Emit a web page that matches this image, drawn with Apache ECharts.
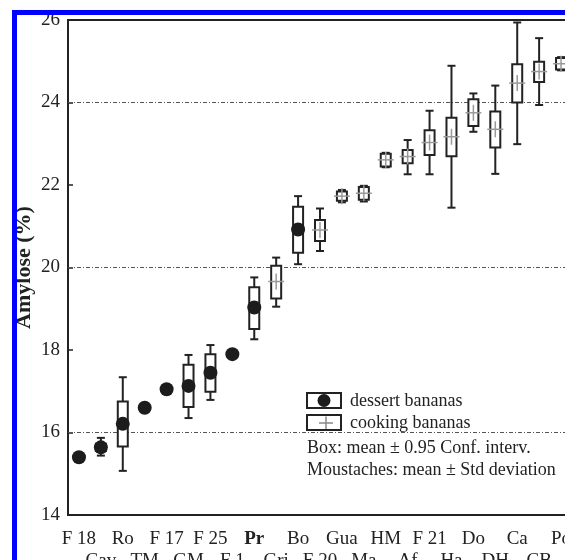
<!DOCTYPE html>
<html>
<head>
<meta charset="utf-8">
<script src="https://cdn.jsdelivr.net/npm/echarts@6/dist/echarts.min.js"></script>
<style>
  html, body { margin: 0; padding: 0; background: #fff; }
  #chart { width: 565px; height: 560px; }
</style>
</head>
<body>
<div id="chart"></div>
<script>
// cultivars, in plot order (labels alternate between two rows)
const categories = ['F 18', 'Cav', 'Ro', 'TM', 'F 17', 'GM', 'F 25', 'F 1', 'Pr', 'Gri', 'Bo', 'F 20',
  'Gua', 'Ma', 'HM', 'Af', 'F 21', 'Ha', 'Do', 'DH', 'Ca', 'CB', 'Po'];
const kinds = ['dessert', 'dessert', 'dessert', 'dessert', 'dessert', 'dessert', 'dessert', 'dessert', 'dessert',
  'cooking', 'dessert', 'cooking', 'cooking', 'cooking', 'cooking', 'cooking', 'cooking', 'cooking',
  'cooking', 'cooking', 'cooking', 'cooking', 'cooking'];
// mean amylose (%)
const means = [15.40, 15.64, 16.21, 16.60, 17.05, 17.13, 17.45, 17.90, 19.03, 19.66, 20.92, 20.91,
  21.73, 21.80, 22.61, 22.69, 23.03, 23.17, 23.75, 23.35, 24.47, 24.75, 24.94];
// box: mean ± 0.95 conf. interval
const boxLow = [null, 15.55, 15.66, null, null, 16.62, 16.99, null, 18.51, 19.25, 20.36, 20.64,
  21.62, 21.64, 22.45, 22.53, 22.73, 22.70, 23.43, 22.91, 24.00, 24.50, 24.80];
const boxHigh = [null, 15.73, 16.75, null, null, 17.64, 17.90, null, 19.52, 20.04, 21.47, 21.15,
  21.84, 21.95, 22.76, 22.85, 23.33, 23.63, 24.08, 23.78, 24.93, 24.99, 25.08];
// moustaches: mean ± std deviation
const whiskerLow = [null, 15.44, 15.07, null, null, 16.35, 16.79, null, 18.26, 19.05, 20.08, 20.40,
  21.58, 21.60, 22.43, 22.26, 22.26, 21.45, 23.29, 22.27, 22.99, 23.94, 24.78];
const whiskerHigh = [null, 15.87, 17.34, null, null, 17.88, 18.12, null, 19.76, 20.24, 21.73, 21.43,
  21.88, 21.98, 22.78, 23.09, 23.80, 24.89, 24.22, 24.41, 25.94, 25.56, 25.10];
const gridValues = [16, 20, 24];

const FONT = '"Liberation Serif", "DejaVu Serif", serif';
const INK = '#222';

const chart = echarts.init(document.getElementById('chart'));

function renderBox(params, api) {
  const i = params.dataIndex;
  const x = api.coord([api.value(0), means[i]])[0];
  const y = v => api.coord([api.value(0), v])[1];
  const children = [];
  if (whiskerLow[i] != null) {
    const hw = 5, cw = 4;
    const line = (x1, y1, x2, y2) => ({
      type: 'line', shape: { x1, y1, x2, y2 }, style: { stroke: INK, lineWidth: 2 }
    });
    children.push(line(x, y(whiskerLow[i]), x, y(whiskerHigh[i])));
    children.push(line(x - cw, y(whiskerLow[i]), x + cw, y(whiskerLow[i])));
    children.push(line(x - cw, y(whiskerHigh[i]), x + cw, y(whiskerHigh[i])));
    children.push({
      type: 'rect',
      shape: { x: x - hw, y: y(boxHigh[i]), width: hw * 2, height: y(boxLow[i]) - y(boxHigh[i]) },
      style: { fill: '#fff', stroke: INK, lineWidth: 2 }
    });
  }
  const ym = y(means[i]);
  if (kinds[i] === 'dessert') {
    children.push({ type: 'circle', shape: { cx: x, cy: ym, r: 7 }, style: { fill: '#1c1c1c' } });
  } else {
    children.push({ type: 'line', shape: { x1: x - 8, y1: ym, x2: x + 8, y2: ym }, style: { stroke: '#999', lineWidth: 1.5 } });
    children.push({ type: 'line', shape: { x1: x, y1: ym - 8, x2: x, y2: ym + 8 }, style: { stroke: '#999', lineWidth: 1.5 } });
  }
  return { type: 'group', children };
}

function renderGridLine(params, api) {
  const cs = params.coordSys;
  const yy = api.coord([0, api.value(0)])[1];
  return {
    type: 'line',
    shape: { x1: cs.x, y1: yy, x2: cs.x + cs.width, y2: yy },
    style: { stroke: '#555', lineWidth: 1, lineDash: [4, 2, 1, 2] }
  };
}

const option = {
  backgroundColor: '#fff',
  animation: false,
  grid: {
    left: 68, top: 20, width: 504, height: 495,
    outerBoundsMode: 'none', containLabel: false,
    show: true, borderColor: INK, borderWidth: 2, backgroundColor: '#fff'
  },
  xAxis: {
    type: 'category',
    data: categories,
    boundaryGap: true,
    axisLine: { lineStyle: { color: INK, width: 2 } },
    axisTick: { inside: true, alignWithLabel: true, length: 4, lineStyle: { color: INK, width: 1.5 } },
    axisLabel: {
      interval: 0,
      hideOverlap: false,
      margin: 13,
      color: INK,
      fontFamily: FONT,
      fontSize: 19,
      lineHeight: 22,
      formatter: (v, idx) => {
        const t = v === 'Pr' ? '{b|Pr}' : v;
        return idx % 2 ? '\n' + t : t;
      },
      rich: { b: { fontWeight: 'bold', fontFamily: FONT, fontSize: 19, color: INK } }
    },
    splitLine: { show: false }
  },
  yAxis: {
    type: 'value',
    min: 14,
    max: 26,
    interval: 2,
    name: 'Amylose (%)',
    nameLocation: 'middle',
    nameGap: 33,
    nameMoveOverlap: false,
    nameTextStyle: { fontFamily: FONT, fontWeight: 'bold', fontSize: 22, color: INK },
    axisLine: { show: true, lineStyle: { color: INK, width: 2 } },
    axisTick: { show: true, inside: true, length: 5, lineStyle: { color: INK, width: 1.5 } },
    axisLabel: { color: INK, fontFamily: FONT, fontSize: 19, margin: 8 },
    splitLine: { show: false }
  },
  series: [
    {
      type: 'custom',
      name: 'grid',
      silent: true,
      z: 1,
      renderItem: renderGridLine,
      data: gridValues.map(v => [v]),
      encode: { y: 0 }
    },
    {
      type: 'custom',
      name: 'bananas',
      z: 5,
      renderItem: renderBox,
      data: categories.map((c, i) => [i, means[i]]),
      encode: { x: 0, y: 1 }
    }
  ],
  graphic: [
    { type: 'rect', z: 100, shape: { x: 12, y: 10, width: 5, height: 550 }, style: { fill: '#0000ff' } },
    { type: 'rect', z: 100, shape: { x: 12, y: 10, width: 553, height: 5 }, style: { fill: '#0000ff' } },
    { type: 'rect', z: 50, shape: { x: 307, y: 393, width: 34, height: 15 }, style: { fill: '#fff', stroke: INK, lineWidth: 2 } },
    { type: 'circle', z: 51, shape: { cx: 324, cy: 400.5, r: 6.5 }, style: { fill: '#1c1c1c' } },
    { type: 'rect', z: 50, shape: { x: 307, y: 415, width: 34, height: 15 }, style: { fill: '#fff', stroke: INK, lineWidth: 2 } },
    { type: 'line', z: 51, shape: { x1: 319, y1: 423, x2: 333, y2: 423 }, style: { stroke: '#888', lineWidth: 1.5 } },
    { type: 'line', z: 51, shape: { x1: 326, y1: 416.5, x2: 326, y2: 429 }, style: { stroke: '#888', lineWidth: 1.5 } },
    { type: 'text', z: 51, x: 350, y: 401, style: { text: 'dessert bananas', fill: INK, font: '18px ' + FONT, textVerticalAlign: 'middle' } },
    { type: 'text', z: 51, x: 350, y: 423, style: { text: 'cooking bananas', fill: INK, font: '18px ' + FONT, textVerticalAlign: 'middle' } },
    { type: 'text', z: 51, x: 307, y: 448, style: { text: 'Box: mean ± 0.95 Conf. interv.', fill: INK, font: '18px ' + FONT, textVerticalAlign: 'middle' } },
    { type: 'text', z: 51, x: 307, y: 470, style: { text: 'Moustaches: mean ± Std deviation', fill: INK, font: '18px ' + FONT, textVerticalAlign: 'middle' } }
  ]
};

chart.setOption(option);
</script>
</body>
</html>
